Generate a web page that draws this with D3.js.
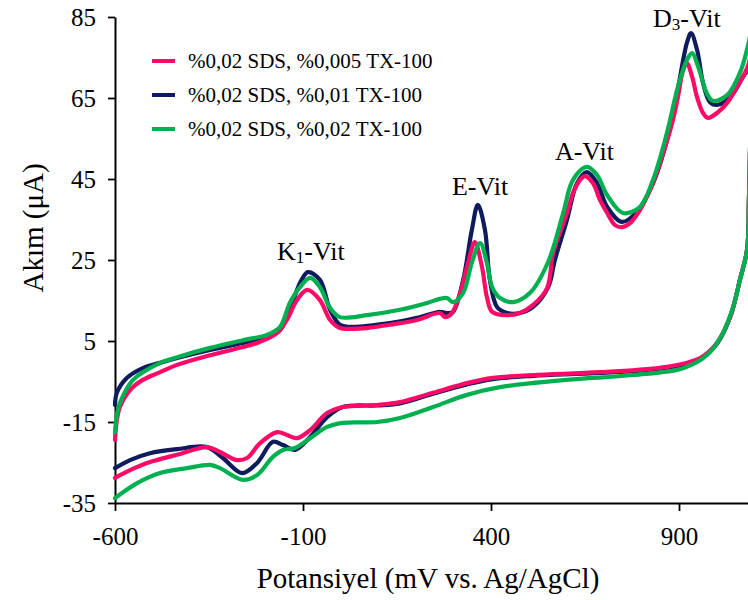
<!DOCTYPE html>
<html>
<head>
<meta charset="utf-8">
<script src="https://cdn.jsdelivr.net/npm/d3@7"></script>
<style>
  html, body { margin: 0; padding: 0; background: #fff; }
  svg { display: block; }
  text { font-family: "Liberation Serif", "Times New Roman", serif; fill: #000; }
</style>
</head>
<body>
<svg id="chart" width="748" height="600"></svg>
<script>
// ---- Data ----
const seriesNames = ["%0,02 SDS, %0,005 TX-100", "%0,02 SDS, %0,01 TX-100", "%0,02 SDS, %0,02 TX-100"];
const seriesColors = ["#ff0a66", "#0e1c5e", "#00b050"];

const xTicks = [-600, -100, 400, 900];
const yTicks = [-35, -15, 5, 25, 45, 65, 85];

// Series 1: %0,005 TX-100 (pink) – forward then reverse scan
const pinkPotential = [-600,-595,-587,-560,-526,-480,-435,-347,-260,-214,-169,-143,-116,-89,-55,-28,-2,25,70,131,203,264,278,296,318,339,357,376,389,403,443,477,512,549,565,583,602,618,637,650,671,690,709,730,748,770,796,823,841,863,884,897,911,921,935,948,964,977,1001,1028,1054,1084,1110,
  1092,1086,1081,1062,1054,1036,1001,956,868,690,512,405,336,246,158,97,6,-36,-81,-116,-143,-169,-214,-249,-276,-321,-355,-435,-507,-560,-600];
const pinkCurrent = [-19.4,-14.5,-11.3,-7.1,-4.6,-2.7,-0.9,1.5,3.5,4.8,7.0,10.2,15.1,17.6,15.1,10.2,8.2,8.0,8.2,9.0,10.2,11.9,10.9,11.9,16.9,24.3,29.4,23.3,15.9,12.2,11.4,11.9,13.9,18.0,26.7,31.7,36.6,41.5,44.8,45.7,44.0,39.8,36.6,33.6,33.1,34.1,37.3,42.3,46.7,52.9,59.6,65.2,71.9,73.6,70.2,65.2,61.3,60.1,61.3,63.8,67.7,73.1,88,
  62,40,27.5,20.1,16.9,10.9,4.5,0.8,-1.4,-2.7,-3.4,-4.1,-5.4,-7.8,-10.1,-10.8,-11.3,-12.8,-17.0,-19.0,-18.2,-17.5,-20.2,-23.9,-24.4,-22.4,-21.2,-23.1,-24.9,-26.9,-28.8];

// Series 2: %0,01 TX-100 (navy)
const bluePotential = [-600,-595,-568,-526,-480,-435,-347,-260,-196,-161,-135,-108,-87,-55,-28,-2,25,131,203,264,283,299,326,349,365,384,397,416,443,477,512,552,570,602,629,655,682,709,748,788,831,868,895,921,932,948,964,982,1001,1036,1070,1084,1110,
  1092,1086,1081,1062,1054,1036,1001,956,868,690,512,405,336,246,158,97,6,-36,-81,-121,-153,-180,-222,-262,-313,-355,-435,-507,-560,-600];
const blueCurrent = [-10.8,-7.8,-4.1,-1.7,-0.4,0.8,2.8,4.5,5.7,7.7,12.7,19.3,22.0,20.1,12.7,9.0,8.5,9.4,10.7,12.2,11.9,12.2,20.1,32.4,38.6,32.4,20.1,13.4,11.9,11.9,13.4,18.3,25.0,34.9,44.0,46.7,44.0,38.1,34.4,36.9,44.0,54.6,66.2,78.6,81.0,76.9,68.7,64.0,63.3,65.2,70.2,72.4,88,
  62,40,27.5,20.1,16.9,10.9,4.3,0.6,-1.6,-2.9,-3.6,-4.4,-5.7,-8.0,-10.4,-10.9,-11.3,-13.8,-18.7,-21.9,-20.7,-19.9,-25.1,-27.6,-23.9,-21.2,-21.7,-22.7,-24.4,-26.4];

// Series 3: %0,02 TX-100 (green)
const greenPotential = [-600,-595,-587,-552,-480,-435,-347,-260,-196,-161,-135,-108,-81,-55,-28,-2,70,158,230,264,283,299,326,349,371,389,403,424,459,504,552,592,618,655,682,709,751,796,831,868,897,921,935,951,974,990,1028,1062,1084,1110,
  1092,1086,1081,1062,1044,1017,974,911,778,602,424,336,246,158,97,6,-36,-81,-121,-153,-180,-222,-260,-321,-347,-409,-480,-541,-600];
const greenCurrent = [-17.5,-13.3,-10.3,-4.6,-0.4,1.0,3.3,5.2,6.5,8.5,14.4,18.3,20.6,18.3,13.2,10.9,11.4,12.7,14.4,15.4,15.6,14.6,16.9,24.3,29.2,24.3,18.3,15.6,14.6,16.9,24.5,36.6,44.8,48.0,46.0,41.0,36.6,38.1,44.8,56.4,67.7,74.4,76.1,72.7,66.2,64.3,65.7,71.2,78.1,90,
  62,40,27.5,20.1,13.4,7.0,1.5,-1.7,-3.4,-4.6,-6.4,-8.3,-11.3,-14.0,-15.0,-15.2,-16.2,-19.0,-21.4,-21.9,-23.6,-28.1,-29.3,-26.4,-25.6,-26.4,-27.6,-30.1,-33.8];

// Peak labels (label start potential, baseline current)
const peakLabels = [
  { main: "K", sub: "1", rest: "-Vit", e: -169, i: 25.0 },
  { main: "E", sub: "",  rest: "-Vit", e: 296,  i: 41.0 },
  { main: "A", sub: "",  rest: "-Vit", e: 570,  i: 49.7 },
  { main: "D", sub: "3", rest: "-Vit", e: 831,  i: 82.5 }
];

(function () {
  const svg = d3.select("#chart");
  const W = 748, H = 600;
  const plotLeft = 115, plotBottom = 503, plotTop = 17;
  const xPerUnit = 188 / 500;
  const x = d3.scaleLinear().domain([-600, 1100]).range([plotLeft, plotLeft + 1700 * xPerUnit]);
  const y = d3.scaleLinear().domain([-35, 85]).range([plotBottom, plotTop]);

  svg.append("rect").attr("width", W).attr("height", H).attr("fill", "#fff");

  const fmt = d => String(d);

  // Axes
  const yAxis = svg.append("g")
    .attr("transform", `translate(${plotLeft},0)`)
    .call(d3.axisLeft(y).tickValues(yTicks).tickSize(7).tickSizeOuter(0).tickPadding(12).tickFormat(fmt));
  const xAxis = svg.append("g")
    .attr("transform", `translate(0,${plotBottom})`)
    .call(d3.axisBottom(x).tickValues(xTicks).tickSize(8).tickSizeOuter(0).tickPadding(16).tickFormat(fmt));

  [yAxis, xAxis].forEach(g => {
    g.select(".domain").attr("stroke", "#000").attr("stroke-width", 2);
    g.selectAll(".tick line").attr("stroke", "#000").attr("stroke-width", 1.8);
    g.selectAll(".tick text").attr("font-size", 25).attr("font-family", "Liberation Serif").attr("fill", "#000");
  });
  yAxis.selectAll(".tick text").attr("dy", "0.33em");
  xAxis.selectAll(".tick text").attr("dy", "0.71em");

  // Axis titles
  svg.append("text")
    .attr("x", 428).attr("y", 588)
    .attr("text-anchor", "middle")
    .attr("font-size", 29)
    .text("Potansiyel (mV vs. Ag/AgCl)");

  svg.append("text")
    .attr("transform", "translate(43,228) rotate(-90)")
    .attr("text-anchor", "middle")
    .attr("font-size", 29)
    .text("Akım (μA)");

  // Curves
  const line = d3.line()
    .x(d => x(d[0]))
    .y(d => y(d[1]))
    .curve(d3.curveCatmullRom.alpha(0.5));

  const series = [
    { p: pinkPotential, c: pinkCurrent, color: seriesColors[0] },
    { p: bluePotential, c: blueCurrent, color: seriesColors[1] },
    { p: greenPotential, c: greenCurrent, color: seriesColors[2] }
  ];
  const drawOrder = [1, 0, 2];
  svg.append("clipPath").attr("id", "plotclip")
    .append("rect").attr("x", plotLeft - 3).attr("y", 0).attr("width", W - plotLeft + 3).attr("height", plotBottom + 2);
  const curves = svg.append("g").attr("clip-path", "url(#plotclip)");
  drawOrder.forEach(k => {
    const s = series[k];
    const pts = s.p.map((v, i) => [v, s.c[i]]);
    curves.append("path")
      .attr("d", line(pts))
      .attr("fill", "none")
      .attr("stroke", s.color)
      .attr("stroke-width", 4.2)
      .attr("stroke-linejoin", "round")
      .attr("stroke-linecap", "round");
  });

  // Peak labels
  peakLabels.forEach(p => {
    const t = svg.append("text")
      .attr("x", x(p.e)).attr("y", y(p.i))
      .attr("font-size", 26);
    t.append("tspan").text(p.main);
    if (p.sub) t.append("tspan").attr("font-size", 17).attr("dy", 3).text(p.sub);
    t.append("tspan").attr("dy", p.sub ? -3 : 0).text(p.rest);
  });

  // Legend
  const legend = svg.append("g");
  seriesNames.forEach((name, i) => {
    const yy = 61 + i * 34;
    legend.append("line")
      .attr("x1", 152).attr("x2", 175).attr("y1", yy).attr("y2", yy)
      .attr("stroke", seriesColors[i]).attr("stroke-width", 4);
    legend.append("text")
      .attr("x", 188).attr("y", yy + 7)
      .attr("font-size", 21)
      .text(name);
  });
})();
</script>
</body>
</html>
